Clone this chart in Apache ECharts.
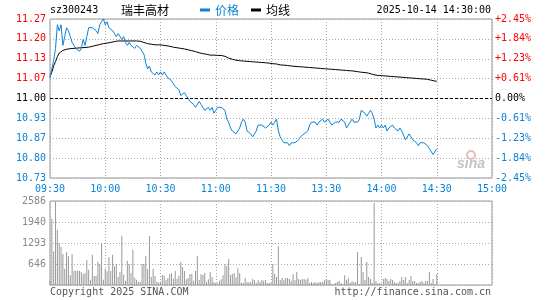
<!DOCTYPE html>
<html>
<head>
<meta charset="utf-8">
<script src="https://cdn.jsdelivr.net/npm/echarts/dist/echarts.min.js"></script>
<style>
  html, body { margin: 0; padding: 0; background: #fff; }
  #chart { width: 545px; height: 300px; }
</style>
</head>
<body>
<div id="chart"></div>
<script>
// stock header
const stockCode = "sz300243";
const stockName = "瑞丰高材";
const quoteTime = "2025-10-14 14:30:00";
const preClose = 11.00;

// axis tick labels (bottom to top)
const timeLabels = ["09:30", "10:00", "10:30", "11:00", "11:30", "13:30", "14:00", "14:30", "15:00"];
const priceLabels = ["10.73", "10.80", "10.87", "10.93", "11.00", "11.07", "11.13", "11.20", "11.27"];
const pctLabels = ["-2.45%", "-1.84%", "-1.23%", "-0.61%", "0.00%", "+0.61%", "+1.23%", "+1.84%", "+2.45%"];
const volLabels = ["", "646", "1293", "1940", "2586"];

// one value per minute, 09:30 .. 14:30
const prices = [
	11.07, 11.10, 11.13, 11.17, 11.25, 11.23, 11.25, 11.18, 11.21, 11.24,
	11.23, 11.21, 11.19, 11.18, 11.17, 11.17, 11.16, 11.17, 11.20, 11.18,
	11.21, 11.24, 11.24, 11.24, 11.24, 11.23, 11.22, 11.25, 11.26, 11.27,
	11.25, 11.26, 11.24, 11.24, 11.23, 11.23, 11.21, 11.22, 11.22, 11.20,
	11.21, 11.19, 11.18, 11.19, 11.18, 11.18, 11.17, 11.18, 11.18, 11.17,
	11.16, 11.15, 11.12, 11.10, 11.11, 11.09, 11.09, 11.08, 11.09, 11.08,
	11.09, 11.08, 11.09, 11.08, 11.07, 11.07, 11.06, 11.05, 11.04, 11.04,
	11.03, 11.01, 11.01, 11.02, 11.01, 11.00, 10.99, 10.99, 10.98, 10.97,
	10.98, 10.99, 10.98, 10.97, 10.96, 10.96, 10.97, 10.96, 10.97, 10.95,
	10.96, 10.97, 10.97, 10.97, 10.97, 10.96, 10.93, 10.92, 10.90, 10.89,
	10.89, 10.88, 10.89, 10.90, 10.92, 10.93, 10.92, 10.89, 10.89, 10.88,
	10.87, 10.88, 10.89, 10.91, 10.91, 10.91, 10.91, 10.90, 10.90, 10.91,
	10.92, 10.91, 10.92, 10.93, 10.89, 10.87, 10.86, 10.85, 10.85, 10.85,
	10.84, 10.85, 10.85, 10.85, 10.85, 10.86, 10.87, 10.87, 10.88, 10.88,
	10.89, 10.91, 10.92, 10.92, 10.92, 10.91, 10.92, 10.92, 10.93, 10.92,
	10.92, 10.93, 10.92, 10.91, 10.91, 10.92, 10.92, 10.92, 10.93, 10.93,
	10.92, 10.90, 10.91, 10.91, 10.93, 10.92, 10.92, 10.92, 10.93, 10.96,
	10.96, 10.95, 10.94, 10.95, 10.96, 10.95, 10.93, 10.90, 10.91, 10.90,
	10.91, 10.90, 10.91, 10.89, 10.90, 10.90, 10.91, 10.90, 10.90, 10.89,
	10.90, 10.89, 10.89, 10.86, 10.86, 10.88, 10.87, 10.86, 10.86, 10.85,
	10.84, 10.85, 10.85, 10.85, 10.85, 10.84, 10.83, 10.83, 10.81, 10.81,
	10.83
];

const avgPrices = [
	11.074, 11.089, 11.111, 11.125, 11.142, 11.154, 11.160, 11.163, 11.165, 11.167,
	11.168, 11.169, 11.170, 11.170, 11.170, 11.171, 11.171, 11.172, 11.172, 11.173,
	11.173, 11.174, 11.176, 11.177, 11.178, 11.180, 11.181, 11.183, 11.185, 11.186,
	11.187, 11.188, 11.189, 11.190, 11.191, 11.193, 11.194, 11.195, 11.195, 11.195,
	11.195, 11.195, 11.195, 11.195, 11.195, 11.195, 11.195, 11.195, 11.195, 11.194,
	11.193, 11.190, 11.188, 11.186, 11.185, 11.184, 11.182, 11.182, 11.182, 11.182,
	11.182, 11.181, 11.180, 11.179, 11.178, 11.177, 11.176, 11.174, 11.173, 11.172,
	11.171, 11.170, 11.169, 11.168, 11.167, 11.165, 11.163, 11.162, 11.161, 11.159,
	11.158, 11.155, 11.154, 11.152, 11.151, 11.150, 11.148, 11.147, 11.147, 11.147,
	11.147, 11.146, 11.146, 11.146, 11.145, 11.143, 11.139, 11.137, 11.135, 11.133,
	11.132, 11.130, 11.129, 11.128, 11.128, 11.127, 11.126, 11.126, 11.125, 11.125,
	11.124, 11.124, 11.123, 11.123, 11.122, 11.122, 11.121, 11.121, 11.120, 11.120,
	11.119, 11.118, 11.118, 11.117, 11.115, 11.114, 11.113, 11.113, 11.112, 11.112,
	11.111, 11.110, 11.110, 11.109, 11.109, 11.108, 11.108, 11.107, 11.107, 11.106,
	11.106, 11.105, 11.105, 11.104, 11.104, 11.103, 11.103, 11.102, 11.102, 11.101,
	11.101, 11.100, 11.100, 11.099, 11.099, 11.098, 11.098, 11.097, 11.097, 11.096,
	11.096, 11.095, 11.095, 11.094, 11.094, 11.093, 11.092, 11.091, 11.090, 11.089,
	11.089, 11.088, 11.087, 11.086, 11.085, 11.082, 11.080, 11.079, 11.079, 11.078,
	11.078, 11.077, 11.077, 11.076, 11.076, 11.075, 11.075, 11.074, 11.074, 11.073,
	11.073, 11.072, 11.072, 11.071, 11.071, 11.070, 11.070, 11.069, 11.069, 11.068,
	11.068, 11.067, 11.067, 11.066, 11.066, 11.065, 11.065, 11.062, 11.060, 11.059,
	11.059
];

const volumes = [
	133, 2042, 1036, 2575, 1703, 1293, 1170, 954, 503, 1016,
	882, 298, 954, 441, 441, 441, 441, 400, 339, 369,
	770, 472, 164, 934, 277, 277, 718, 646, 1293, 164,
	503, 421, 862, 441, 934, 575, 646, 246, 400, 1518,
	318, 133, 749, 646, 369, 1088, 215, 164, 103, 103,
	646, 646, 893, 492, 1508, 246, 503, 277, 103, 82,
	103, 308, 287, 164, 215, 339, 359, 195, 431, 195,
	287, 708, 554, 431, 174, 215, 339, 339, 133, 431,
	893, 154, 328, 308, 369, 92, 174, 400, 246, 92,
	62, 62, 133, 174, 298, 646, 585, 800, 308, 339,
	359, 236, 523, 369, 72, 62, 215, 92, 82, 92,
	185, 154, 62, 154, 92, 154, 133, 154, 62, 62,
	62, 646, 339, 246, 1190, 154, 215, 154, 215, 215,
	185, 133, 339, 154, 400, 185, 154, 185, 185, 154,
	215, 62, 92, 62, 92, 62, 92, 92, 92, 154,
	185, 154, 164, 31, 31, 62, 92, 123, 62, 31,
	298, 154, 215, 62, 123, 92, 92, 1016, 31, 862,
	400, 154, 708, 246, 185, 62, 2524, 123, 62, 62,
	31, 185, 215, 185, 123, 185, 154, 92, 62, 62,
	123, 246, 154, 246, 62, 154, 277, 123, 123, 62,
	62, 92, 123, 62, 123, 123, 400, 62, 185, 31,
	339
];

const BLUE = "#0a84d6";
const RED = "#ff0000";
const GREY = "#999";
const MONO = "DejaVu Sans Mono";
const CJK = "Noto Sans CJK SC";

const pctStep = 0.6125;
const tickIndex = v => Math.round((Number(v) + 2.45) / pctStep);
const signColor = v => {
	const i = tickIndex(v);
	return i > 4 ? RED : (i < 4 ? BLUE : "#000");
};

const priceData = prices.map((p, i) => [i, p]);
const avgData = avgPrices.map((p, i) => [i, p]);
const volData = volumes.map((v, i) => [i, v]);

const dotted = { color: "#aaa", type: [1, 2], width: 1 };

const chart = echarts.init(document.getElementById("chart"), null, { renderer: "canvas" });
chart.setOption({
	animation: false,
	textStyle: { fontFamily: MONO },
	grid: [
		{ left: 50, top: 19, width: 442, height: 159, show: true, borderColor: GREY, borderWidth: 1 },
		{ left: 50, top: 201, width: 442, height: 84, show: true, borderColor: GREY, borderWidth: 1 }
	],
	legend: {
		left: 200,
		top: 4,
		padding: 0,
		icon: "rect",
		itemWidth: 10,
		itemHeight: 3,
		itemGap: 12,
		selectedMode: false,
		textStyle: { fontFamily: CJK, fontSize: 12 },
		data: [
			{ name: "价格", textStyle: { color: BLUE } },
			{ name: "均线", textStyle: { color: "#000" } }
		]
	},
	xAxis: [
		{
			gridIndex: 0, type: "value", min: 0, max: 240, interval: 30,
			axisLine: { show: false }, axisTick: { show: false },
			splitLine: { show: true, lineStyle: dotted },
			axisLabel: {
				color: BLUE, fontSize: 10, fontFamily: MONO, margin: 6,
				formatter: v => timeLabels[Math.round(v / 30)]
			}
		},
		{
			gridIndex: 1, type: "value", min: 0, max: 240, interval: 30,
			axisLine: { show: false }, axisTick: { show: false },
			splitLine: { show: true, lineStyle: dotted },
			axisLabel: { show: false }
		}
	],
	yAxis: [
		{
			gridIndex: 0, type: "value", position: "left", min: -2.45, max: 2.45, interval: pctStep,
			axisLine: { show: false }, axisTick: { show: false },
			splitLine: { show: true, lineStyle: dotted },
			axisLabel: {
				fontSize: 10, fontFamily: MONO, margin: 4,
				color: v => signColor(v),
				formatter: v => priceLabels[tickIndex(v)]
			}
		},
		{
			gridIndex: 0, type: "value", position: "right", min: -2.45, max: 2.45, interval: pctStep,
			axisLine: { show: false }, axisTick: { show: false },
			splitLine: { show: false },
			axisLabel: {
				fontSize: 10, fontFamily: MONO, margin: 3,
				color: v => signColor(v),
				formatter: v => pctLabels[tickIndex(v)]
			}
		},
		{
			gridIndex: 0, type: "value", show: false,
			min: preClose * (1 - 0.0245), max: preClose * (1 + 0.0245),
			splitLine: { show: false }
		},
		{
			gridIndex: 1, type: "value", min: 0, max: 2586, interval: 646.5,
			axisLine: { show: false }, axisTick: { show: false },
			splitLine: { show: true, lineStyle: dotted },
			axisLabel: {
				color: "#888", fontSize: 10, fontFamily: MONO, margin: 4,
				formatter: v => volLabels[Math.round(v / 646.5)]
			}
		}
	],
	series: [
		{
			name: "价格",
			type: "line",
			xAxisIndex: 0,
			yAxisIndex: 2,
			data: priceData,
			showSymbol: false,
			z: 3,
			itemStyle: { color: BLUE },
			lineStyle: { color: BLUE, width: 1 },
			markLine: {
				silent: true,
				symbol: "none",
				label: { show: false },
				lineStyle: { color: "#000", type: [3, 2], width: 1 },
				data: [{ yAxis: preClose }]
			}
		},
		{
			name: "均线",
			type: "line",
			xAxisIndex: 0,
			yAxisIndex: 2,
			data: avgData,
			showSymbol: false,
			z: 2,
			itemStyle: { color: "#000" },
			lineStyle: { color: "#000", width: 1 }
		},
		{
			name: "成交量",
			type: "bar",
			xAxisIndex: 1,
			yAxisIndex: 3,
			data: volData,
			barWidth: 1,
			itemStyle: { color: GREY }
		}
	],
	graphic: [
		{ type: "text", left: 50, top: 5, style: { text: stockCode, font: "10px " + MONO, fill: "#000" } },
		{ type: "text", left: 121, top: 4, style: { text: stockName, font: "12px '" + CJK + "'", fill: "#000" } },
		{ type: "text", right: 54, top: 5, style: { text: quoteTime, font: "10px " + MONO, fill: "#000" } },
		{ type: "text", left: 50, top: 287, style: { text: "Copyright 2025 SINA.COM", font: "10px " + MONO, fill: "#555" } },
		{ type: "text", right: 54, top: 287, style: { text: "http://finance.sina.com.cn", font: "10px " + MONO, fill: "#555" } },
		{ type: "circle", shape: { cx: 471, cy: 155, r: 4 }, style: { fill: "none", stroke: "#e6bcbc", lineWidth: 2 }, z: 1 },
		{ type: "text", left: 457, top: 157, z: 1, style: { text: "sina", font: "italic bold 14px 'Liberation Sans'", fill: "#c4c4c4" } }
	]
});
</script>
</body>
</html>
